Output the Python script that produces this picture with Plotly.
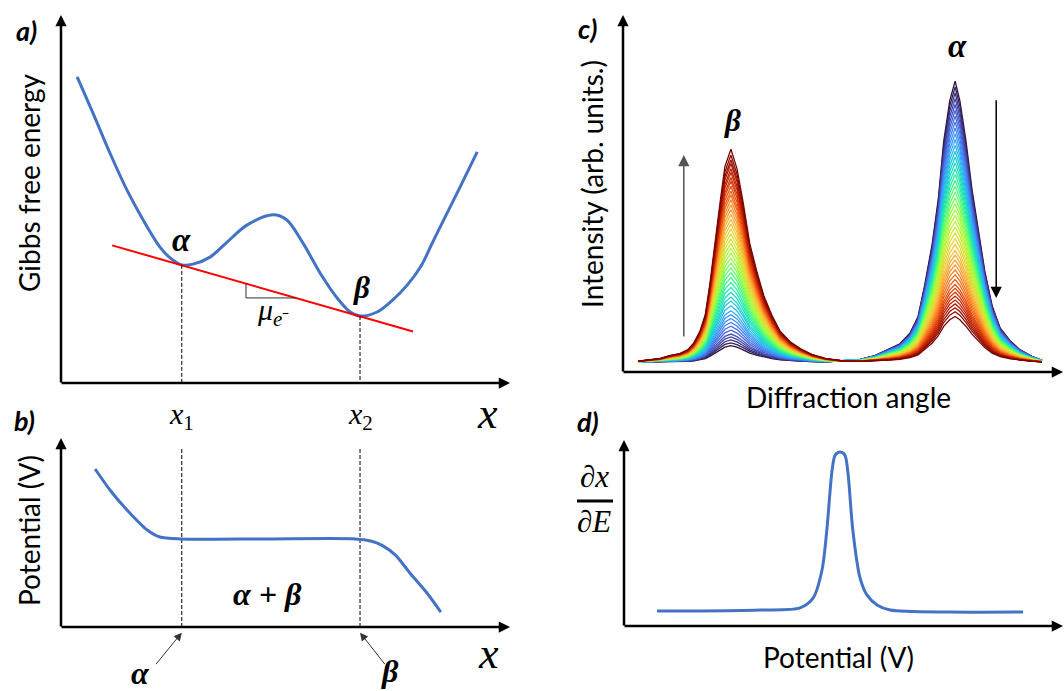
import numpy as np
import plotly.graph_objects as go
from plotly.colors import sample_colorscale

W, H = 1064, 691

# ---------------- a) Gibbs free energy vs. composition ----------------
comp_a = [0.036, 0.071, 0.109, 0.147, 0.183, 0.220, 0.243, 0.269, 0.294, 0.332, 0.370, 0.414,
          0.472, 0.503, 0.539, 0.577, 0.615, 0.644, 0.666, 0.704, 0.739, 0.771, 0.802, 0.826,
          0.851, 0.889, 0.927]
gibbs = [83.2, 73.4, 62.5, 52.4, 44.3, 37.0, 34.0, 32.1, 32.3, 34.2, 38.3, 42.9,
         45.7, 44.3, 38.0, 29.9, 23.1, 19.3, 18.2, 19.3, 22.6, 26.6, 31.8, 37.8,
         44.0, 53.3, 62.8]
x1_comp, x2_comp = 0.269, 0.666          # common-tangent compositions
g_x1, g_x2 = 32.1, 18.2                 # free energies at the tangent points
tangent_comp = [0.114, 0.784]
tangent_g = [37.4, 14.0]
slope_run = [0.412, 0.523]              # slope triangle under the tangent

# ---------------- b) potential vs. composition ----------------
comp_b = [0.076, 0.109, 0.147, 0.192, 0.220, 0.265, 0.460, 0.655, 0.690, 0.715, 0.745, 0.777, 0.815, 0.846]
potential = [0.836, 0.725, 0.619, 0.513, 0.476, 0.466, 0.466, 0.466, 0.455, 0.432, 0.380, 0.286, 0.180, 0.079]

# ---------------- c) diffraction patterns ----------------
two_theta = [20.0, 21.8, 23.3, 24.8, 26.2, 27.4, 28.3, 29.2, 30.0, 30.7, 31.4, 32.2, 32.9, 33.8,
             34.7, 35.6, 36.6, 37.7, 38.7, 39.9, 41.1, 42.6, 44.1, 45.8, 47.8, 50.4, 53.0, 55.2,
             57.4, 58.9, 60.4, 61.6, 62.6, 63.7, 64.6, 65.4, 66.3, 67.1, 67.8, 68.7, 69.6, 70.5,
             71.5, 72.6, 73.8, 75.3, 76.7, 78.5, 80.0]
beta_profile = [0.005, 0.014, 0.018, 0.032, 0.041, 0.059, 0.091, 0.146, 0.224, 0.374, 0.557, 0.753,
                0.918, 1.000, 0.909, 0.753, 0.557, 0.420, 0.311, 0.219, 0.146, 0.096, 0.064, 0.037,
                0.018, 0.005, 0.002, 0.001, 0, 0, 0, 0, 0, 0, 0, 0, 0, 0, 0, 0, 0, 0, 0, 0, 0, 0, 0, 0, 0]
alpha_profile = [0] * 25 + [0.005, 0.010, 0.024, 0.048, 0.066, 0.104, 0.163, 0.277, 0.422, 0.581,
                            0.785, 0.931, 1.000, 0.931, 0.789, 0.616, 0.478, 0.325, 0.201, 0.121,
                            0.076, 0.045, 0.021, 0.007]
# peak heights of each scan (first scan -> last scan)
beta_heights = [17, 20, 23, 26, 29, 33, 37, 41, 45, 49, 53, 58, 63, 67, 72, 77, 82, 87, 92, 97,
                102, 107, 112, 117, 122, 127, 132, 137, 142, 147, 152, 157, 162, 167, 172, 176,
                181, 186, 190, 195, 199, 204, 208, 213, 219]
alpha_heights = [289, 283, 277, 271, 265, 259, 253, 247, 241, 235, 229, 223, 217, 211, 205, 199,
                 193, 187, 181, 175, 169, 163, 157, 151, 145, 139, 133, 127, 121, 115, 110, 105,
                 100, 95, 90, 85, 80, 76, 72, 68, 64, 60, 56, 52, 47]

# ---------------- d) dx/dE vs. potential ----------------
pot_d = [0.075, 0.173, 0.309, 0.400, 0.430, 0.450, 0.461, 0.473, 0.480, 0.491, 0.502, 0.509,
         0.520, 0.536, 0.552, 0.575, 0.605, 0.741, 0.907]
dxdE = [0.081, 0.081, 0.086, 0.097, 0.151, 0.301, 0.516, 0.839, 0.919, 0.935, 0.919, 0.823,
        0.516, 0.263, 0.167, 0.113, 0.086, 0.075, 0.075]

BLUE = "#4472C4"
TEXT_FONT = "Lato"
MATH_FONT = "Liberation Serif"


def px_x(p):
    return p / W


def px_y(p):
    return 1 - p / H


fig = go.Figure()

# a) free-energy curve, tangent, guides
fig.add_trace(go.Scatter(x=comp_a, y=gibbs, mode="lines", line=dict(color=BLUE, width=3, shape="spline", smoothing=0.9),
                         xaxis="x", yaxis="y"))
fig.add_trace(go.Scatter(x=tangent_comp, y=tangent_g, mode="lines", line=dict(color="#FF0000", width=2),
                         xaxis="x", yaxis="y"))
slope = (tangent_g[1] - tangent_g[0]) / (tangent_comp[1] - tangent_comp[0])
g_run = [tangent_g[0] + slope * (c - tangent_comp[0]) for c in slope_run]
fig.add_trace(go.Scatter(x=[slope_run[0], slope_run[0], slope_run[1]], y=[g_run[0], g_run[1], g_run[1]],
                         mode="lines", line=dict(color="#333333", width=1), xaxis="x", yaxis="y"))
for xc, gc in [(x1_comp, g_x1), (x2_comp, g_x2)]:
    fig.add_trace(go.Scatter(x=[xc, xc], y=[gc, 0], mode="lines",
                             line=dict(color="black", width=1, dash="4px,2px"), xaxis="x", yaxis="y"))
    fig.add_trace(go.Scatter(x=[xc, xc], y=[0, 0.947], mode="lines",
                             line=dict(color="black", width=1, dash="4px,2px"), xaxis="x2", yaxis="y2"))

# b) potential profile
fig.add_trace(go.Scatter(x=comp_b, y=potential, mode="lines", line=dict(color=BLUE, width=3, shape="spline", smoothing=0.7),
                         xaxis="x2", yaxis="y2"))

# c) stacked diffraction scans
n_scans = len(beta_heights)
colors = sample_colorscale("Turbo", [i / (n_scans - 1) for i in range(n_scans)])
bp = np.array(beta_profile)
ap = np.array(alpha_profile)
for i in range(n_scans):
    inten = beta_heights[i] * bp + alpha_heights[i] * ap
    fig.add_trace(go.Scatter(x=two_theta, y=inten, mode="lines", line=dict(color=colors[i], width=1.3),
                             xaxis="x3", yaxis="y3"))

# d) derivative curve
fig.add_trace(go.Scatter(x=pot_d, y=dxdE, mode="lines", line=dict(color=BLUE, width=3, shape="spline", smoothing=0.8),
                         xaxis="x4", yaxis="y4"))

annotations = []


def axis_arrow(x0, y0, x1, y1, width=2.5, size=0.9, color="black"):
    annotations.append(dict(x=px_x(x1), y=px_y(y1), xref="paper", yref="paper",
                            ax=x0 - x1, ay=y0 - y1, showarrow=True, arrowhead=2,
                            arrowsize=size, arrowwidth=width, arrowcolor=color, text=""))


axis_arrow(61, 384, 61, 15)
axis_arrow(60, 383, 510, 383)
axis_arrow(61, 628, 61, 438)
axis_arrow(60, 627, 510, 627)
axis_arrow(623, 373, 623, 15)
axis_arrow(622, 372, 1070, 372)
axis_arrow(624, 627, 624, 440)
axis_arrow(623, 626, 1070, 626)


def label(text, x, y, size, family=TEXT_FONT, xref="paper", yref="paper", angle=0, color="black"):
    annotations.append(dict(text=text, x=x, y=y, xref=xref, yref=yref, showarrow=False,
                            textangle=angle, font=dict(family=family, size=size, color=color),
                            xanchor="center", yanchor="middle"))


# panel letters
label("<b><i>a)</i></b>", px_x(26), px_y(30), 27)
label("<b><i>b)</i></b>", px_x(24), px_y(420), 27)
label("<b><i>c)</i></b>", px_x(587), px_y(28), 27)
label("<b><i>d)</i></b>", px_x(588), px_y(422), 27)

# axis titles
label("Gibbs free energy", px_x(29), px_y(183), 28, angle=-90)
label("Potential (V)", px_x(29), px_y(531), 28, angle=-90)
label("Intensity (arb. units.)", px_x(592), px_y(184), 28, angle=-90)
label("Diffraction angle", px_x(848), px_y(397), 28)
label("Potential (V)", px_x(838), px_y(657), 28)

# composition labels
label("<i>x</i><sub>1</sub>", x1_comp, px_y(416), 30, family=MATH_FONT, xref="x")
label("<i>x</i><sub>2</sub>", x2_comp, px_y(416), 30, family=MATH_FONT, xref="x")
label("<i>x</i>", px_x(487), px_y(413), 44, family=MATH_FONT)
label("<i>x</i>", px_x(488), px_y(653), 44, family=MATH_FONT)

# phase labels in a)
label("<b><i>α</i></b>", x1_comp, g_x1 + 6.8, 33, family=MATH_FONT, xref="x", yref="y")
label("<b><i>β</i></b>", x2_comp + 0.004, g_x2 + 7.8, 31, family=MATH_FONT, xref="x", yref="y")
label("<i>μ</i><sub><i>e</i>⁻</sub>", 0.472, 19.2, 30, family=MATH_FONT, xref="x", yref="y")

# b) two-phase label and end-member arrows
label("<b><i>α + β</i></b>", 0.459, 0.172, 32, family=MATH_FONT, xref="x2", yref="y2")
for xc, dx, lx, ly, txt in [(x1_comp, -27, 0.176, -0.245, "α"), (x2_comp, 26, 0.733, -0.235, "β")]:
    annotations.append(dict(x=xc, y=-0.03, xref="x2", yref="y2", ax=dx, ay=33, showarrow=True,
                            arrowhead=2, arrowsize=1.6, arrowwidth=1, arrowcolor="#333333", text=""))
    label("<b><i>%s</i></b>" % txt, lx, ly, 32, family=MATH_FONT, xref="x2", yref="y2")

# c) peak labels and trend arrows
label("<b><i>β</i></b>", two_theta[beta_profile.index(1.0)] + 0.2, max(beta_heights) + 30, 31,
      family=MATH_FONT, xref="x3", yref="y3")
label("<b><i>α</i></b>", two_theta[alpha_profile.index(1.0)] + 0.3, max(alpha_heights) + 36, 33,
      family=MATH_FONT, xref="x3", yref="y3")
annotations.append(dict(x=26.8, y=213, xref="x3", yref="y3", ax=26.8, ay=25, axref="x3", ayref="y3",
                        showarrow=True, arrowhead=2, arrowsize=1.5, arrowwidth=1.5, arrowcolor="#555555", text=""))
annotations.append(dict(x=73.2, y=66, xref="x3", yref="y3", ax=73.2, ay=271, axref="x3", ayref="y3",
                        showarrow=True, arrowhead=2, arrowsize=1.5, arrowwidth=1.5, arrowcolor="black", text=""))

# d) dx/dE label as a stacked fraction
label("<i>∂x</i>", px_x(594), px_y(477), 31, family=MATH_FONT)
label("<i>∂E</i>", px_x(594), px_y(521), 31, family=MATH_FONT)
shapes = [dict(type="line", xref="paper", yref="paper", x0=px_x(577), x1=px_x(613), y0=px_y(501), y1=px_y(501),
               line=dict(color="black", width=3))]

hidden = dict(visible=False, fixedrange=True)
b_low = -0.32                            # room below the b) axis for the end-member labels
fig.update_layout(
    width=W, height=H, margin=dict(l=0, r=0, t=0, b=0),
    paper_bgcolor="white", plot_bgcolor="white", showlegend=False,
    xaxis=dict(domain=[px_x(61), px_x(510)], range=[0, 1], **hidden),
    yaxis=dict(domain=[px_y(383), px_y(15)], range=[0, 100], **hidden),
    xaxis2=dict(domain=[px_x(61), px_x(510)], range=[0, 1], **hidden),
    yaxis2=dict(domain=[px_y(627 - b_low * 189), px_y(438)], range=[b_low, 1], **hidden),
    xaxis3=dict(domain=[px_x(623), 1.0], range=[17.77, 83.27], **hidden),
    yaxis3=dict(domain=[px_y(372), px_y(15)], range=[-10, 357], **hidden),
    xaxis4=dict(domain=[px_x(624), 1.0], range=[0, 1], **hidden),
    yaxis4=dict(domain=[px_y(626), px_y(440)], range=[0, 1], **hidden),
    annotations=annotations, shapes=shapes,
)

fig.write_html("out.html")
